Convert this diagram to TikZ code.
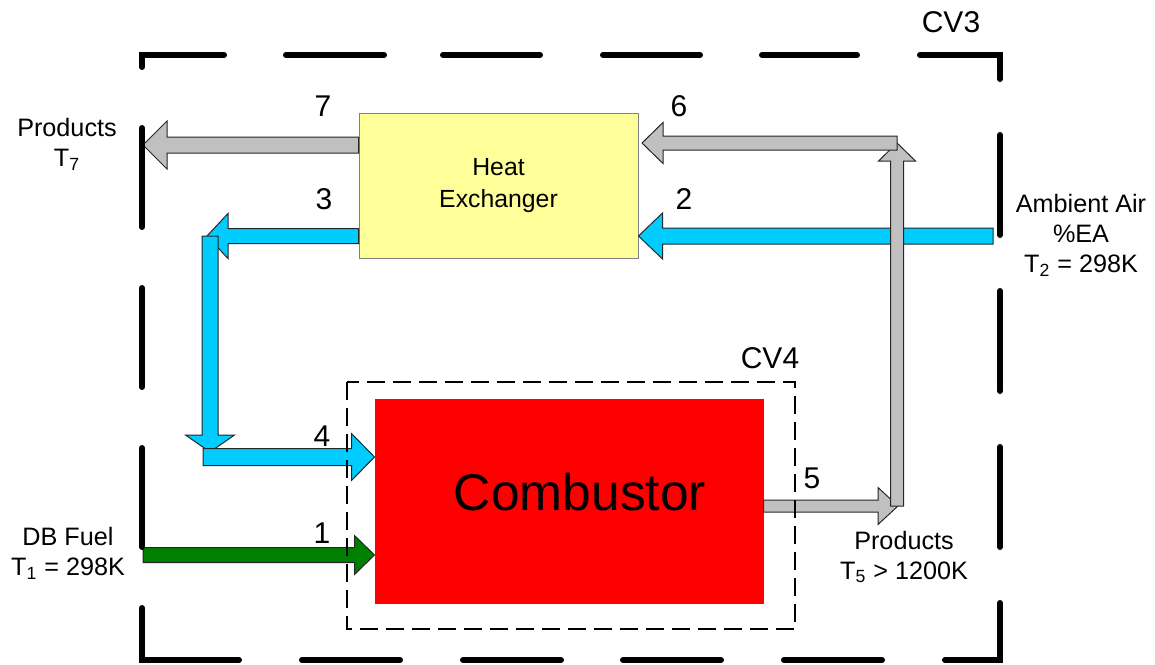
\documentclass[tikz,border=0pt]{standalone}
\usepackage{fontspec}
\setmainfont{Liberation Sans}
\usetikzlibrary{calc}
\definecolor{hxyellow}{HTML}{FFFF99}
\definecolor{airblue}{HTML}{00CCFF}
\definecolor{fuelgreen}{HTML}{008000}
\definecolor{prodgray}{HTML}{C0C0C0}
\definecolor{combred}{HTML}{FF0000}
% #1 style, #2 half shaft width, #3 half head width, #4 head length, #5 from, #6 to
\newcommand\blockarrow[6]{%
  \path ($(#6)!#4!(#5)$) coordinate (ba-h);
  \draw[#1] ($(#5)!#2!90:(#6)$) -- ($(ba-h)!#2!90:(#6)$) -- ($(ba-h)!#3!90:(#6)$)
    -- (#6) -- ($(ba-h)!#3!-90:(#6)$) -- ($(ba-h)!#2!-90:(#6)$)
    -- ($(#5)!#2!-90:(#6)$) -- cycle;
}
\begin{document}
\begin{tikzpicture}[x=0.5pt,y=-0.5pt,
  flow/.style={draw=black!85,line width=0.5pt,line join=miter},
  gflow/.style={flow,fill=prodgray},
  bflow/.style={flow,fill=airblue},
  fflow/.style={flow,fill=fuelgreen},
  cvbig/.style={line width=3pt,line cap=round,line join=miter},
  cvsmall/.style={line width=0.8pt,dash pattern=on 9pt off 4pt},
  lbl/.style={inner sep=0pt,align=center,font=\fontsize{12.6}{15}\selectfont},
  num/.style={inner sep=0pt,font=\fontsize{15}{18}\selectfont}]
\useasboundingbox (0,0) rectangle (1155,664);

% units
\node[draw=black!50,line width=0.5pt,fill=hxyellow,minimum width=139.5pt,minimum height=72.5pt,
  inner sep=0pt,align=center,font=\fontsize{12.4}{16}\selectfont] (hx) at (498.5,185.5) {Heat\\Exchanger};
\node[draw=black!70,line width=0.5pt,fill=combred,minimum width=194pt,minimum height=102pt,inner sep=0pt]
  (comb) at (569,501) {};
\node[inner sep=0pt,font=\fontsize{25.8}{30}\selectfont] (combtxt) at (580,492) {Combustor};

% connector end points
\coordinate (p7) at (143,145);
\coordinate (s6) at (897,143);
\coordinate (t6) at (642,143);
\coordinate (s2) at (993,236);
\coordinate (t3) at (207,236);
\coordinate (c3) at (210,236);
\coordinate (t3v) at (210,452);
\coordinate (s4) at (203,457);
\coordinate (s1) at (143,555);
\coordinate (t5) at (898,506);
\coordinate (c5) at (897,506);

% flows
\blockarrow{gflow}{4pt}{12pt}{12pt}{hx.west |- p7}{p7}
\blockarrow{bflow}{4pt}{11.5pt}{12pt}{s2}{hx.east |- s2}
\blockarrow{bflow}{3.75pt}{11.25pt}{10.5pt}{hx.west |- t3}{t3}
\blockarrow{bflow}{4pt}{12.25pt}{8.5pt}{c3}{t3v}
\blockarrow{bflow}{4.25pt}{11.75pt}{11.5pt}{s4}{comb.west |- s4}
\blockarrow{fflow}{3.75pt}{9.75pt}{10pt}{s1}{comb.west |- s1}
\blockarrow{gflow}{3pt}{9.25pt}{10pt}{comb.east |- t5}{t5}
\blockarrow{gflow}{3.25pt}{9.25pt}{9pt}{c5}{c5 |- s6}
\blockarrow{gflow}{3.5pt}{10.25pt}{10.5pt}{s6}{t6}

% control volumes
\draw[cvsmall] (347,382) rectangle (795,629);
\draw[cvbig]
  (286,55) -- (384,55) (443,55) -- (540,55) (603,55) -- (700,55) (762,55) -- (857,55)
  (920,55) -- (1000,55) -- (1000,79)
  (1000,135) -- (1000,235) (1000,291) -- (1000,391) (1000,447) -- (1000,547)
  (1000,603) -- (1000,660) -- (945,660)
  (882,660) -- (784,660) (721,660) -- (623,660) (561,660) -- (463,660) (400,660) -- (302,660)
  (239,660) -- (142,660) -- (142,608)
  (142,547) -- (142,448) (142,387) -- (142,288) (142,227) -- (142,128)
  (142,67) -- (142,55) -- (224,55);

% labels
\node[num] (cv3) at (951,22) {CV3};
\node[num] (cv4) at (770,358) {CV4};
\node[num] (n7) at (323,106) {7};
\node[num] (n6) at (679,106) {6};
\node[num] (n3) at (324,199) {3};
\node[num] (n2) at (684,199) {2};
\node[num] (n4) at (322,436) {4};
\node[num] (n1) at (322,533) {1};
\node[num] (n5) at (812,478) {5};
\node[lbl] (prod7) at (67,144) {Products\\T\textsubscript{7}};
\node[lbl] (amb) at (1081,235) {Ambient Air\\\%EA\\T\textsubscript{2} = 298K};
\node[lbl] (fuel) at (68,553) {DB Fuel\\T\textsubscript{1} = 298K};
\node[lbl] (prod5) at (904,557) {Products\\T\textsubscript{5} > 1200K};
\end{tikzpicture}
\end{document}
